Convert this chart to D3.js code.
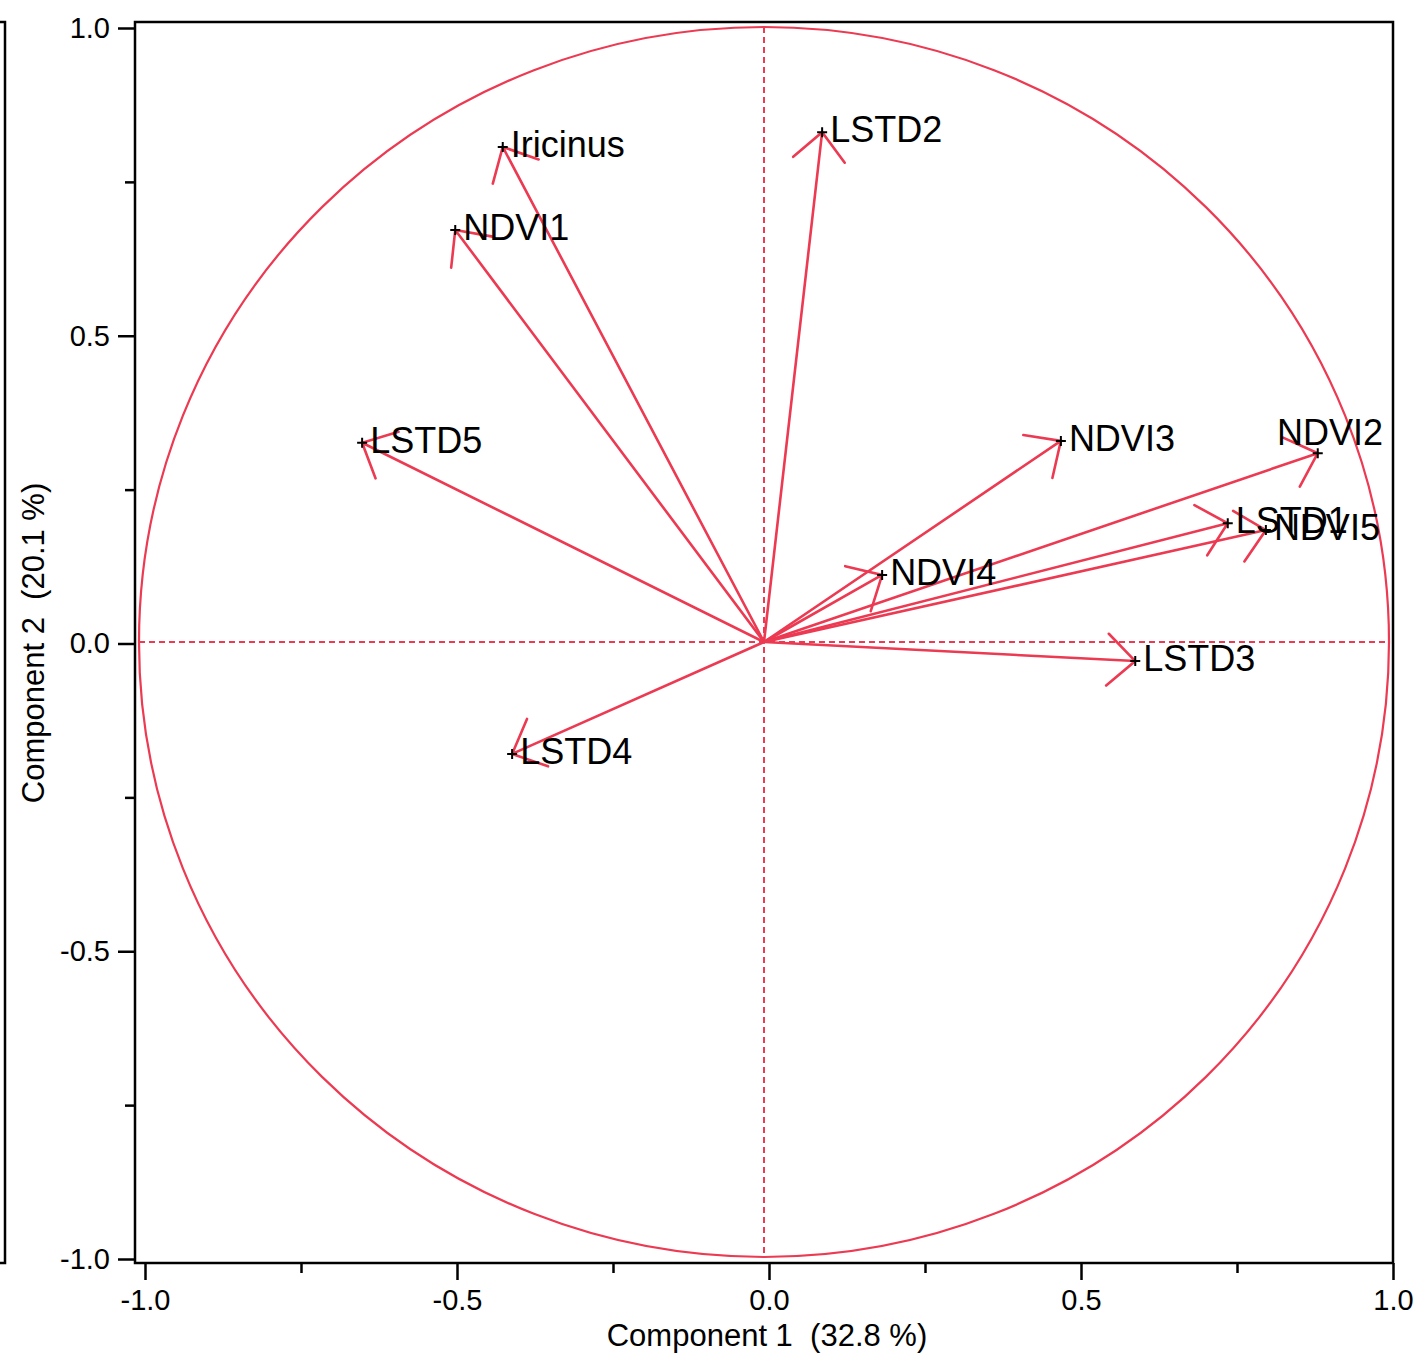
<!DOCTYPE html>
<html>
<head>
<meta charset="utf-8">
<script src="https://cdn.jsdelivr.net/npm/d3@7"></script>
<style>
  body { margin: 0; background: #fff; }
  text { font-family: "Liberation Sans", Arial, Helvetica, sans-serif; }
</style>
</head>
<body>
<svg id="chart" width="1419" height="1359"></svg>
<script>
// loadings
const variables = ["LSTD2", "Iricinus", "NDVI1", "LSTD5", "LSTD4", "NDVI4", "LSTD3", "NDVI3", "NDVI2", "LSTD1", "NDVI5"];
const comp1 = [0.093, -0.418, -0.494, -0.643, -0.403, 0.189, 0.594, 0.475, 0.886, 0.742, 0.803];
const comp2 = [0.829, 0.805, 0.670, 0.324, -0.182, 0.109, -0.031, 0.327, 0.307, 0.193, 0.182];

const majorTicks = [-1, -0.5, 0, 0.5, 1];
const minorTicks = [-0.75, -0.25, 0.25, 0.75];
const tickLabels = ["-1.0", "-0.5", "0.0", "0.5", "1.0"];
const xTitle = "Component 1  (32.8 %)";
const yTitle = "Component 2  (20.1 %)";

const RED = "#EC3A52";
const frame = { left: 135, top: 22, right: 1393, bottom: 1263 };

const svg = d3.select("#chart");

// axis scales
const xa = d3.scaleLinear().domain([-1, 1]).range([145, 1393]);
const ya = d3.scaleLinear().domain([-1, 1]).range([1259, 28]);
// plot scales (the unit circle sits a few px left of the axis)
const x = d3.scaleLinear().domain([-1, 1]).range([139, 1389]);
const y = d3.scaleLinear().domain([-1, 1]).range([1257, 27]);

// left neighbour panel edge
svg.append("rect")
    .attr("x", -20).attr("y", frame.top)
    .attr("width", 25).attr("height", frame.bottom - frame.top)
    .attr("fill", "none").attr("stroke", "#000").attr("stroke-width", 2.5);

// axes
const fmt = (d) => tickLabels[majorTicks.indexOf(d)];

const gx = svg.append("g").attr("transform", "translate(0," + frame.bottom + ")")
    .call(d3.axisBottom(xa).tickValues(majorTicks).tickFormat(fmt).tickSize(17).tickPadding(9));
const gxm = svg.append("g").attr("transform", "translate(0," + frame.bottom + ")")
    .call(d3.axisBottom(xa).tickValues(minorTicks).tickFormat("").tickSize(10));
const gy = svg.append("g").attr("transform", "translate(" + frame.left + ",0)")
    .call(d3.axisLeft(ya).tickValues(majorTicks).tickFormat(fmt).tickSize(17).tickPadding(8));
const gym = svg.append("g").attr("transform", "translate(" + frame.left + ",0)")
    .call(d3.axisLeft(ya).tickValues(minorTicks).tickFormat("").tickSize(10));

[gx, gxm, gy, gym].forEach(g => {
    g.select(".domain").remove();
    g.selectAll("line").attr("stroke", "#000").attr("stroke-width", 2.5);
    g.selectAll("text").attr("fill", "#000").style("font-size", "29px")
        .style("font-family", "'Liberation Sans', Arial, sans-serif");
});

// frame
svg.append("rect")
    .attr("x", frame.left).attr("y", frame.top)
    .attr("width", frame.right - frame.left).attr("height", frame.bottom - frame.top)
    .attr("fill", "none").attr("stroke", "#000").attr("stroke-width", 2.5);

// titles (keep the double space)
svg.append("text")
    .attr("x", 767).attr("y", 1346)
    .attr("text-anchor", "middle")
    .style("font-size", "31px")
    .style("white-space", "pre")
    .text(xTitle);

svg.append("text")
    .attr("transform", "translate(44,643) rotate(-90)")
    .attr("text-anchor", "middle")
    .style("font-size", "31px")
    .style("white-space", "pre")
    .text(yTitle);

// unit circle and dashed reference lines
svg.append("ellipse")
    .attr("cx", x(0)).attr("cy", y(0))
    .attr("rx", x(1) - x(0)).attr("ry", y(0) - y(1))
    .attr("fill", "none").attr("stroke", RED).attr("stroke-width", 2.2);

svg.append("line")
    .attr("x1", x(-1)).attr("x2", x(1)).attr("y1", y(0)).attr("y2", y(0))
    .attr("stroke", RED).attr("stroke-width", 2).attr("stroke-dasharray", "6,4");
svg.append("line")
    .attr("x1", x(0)).attr("x2", x(0)).attr("y1", y(1)).attr("y2", y(-1))
    .attr("stroke", RED).attr("stroke-width", 2).attr("stroke-dasharray", "6,4");

// arrows
const headLen = 38, headAng = 43 * Math.PI / 180;
const points = variables.map((v, i) => ({ name: v, px: x(comp1[i]), py: y(comp2[i]) }));

const arrows = svg.append("g")
    .attr("fill", "none").attr("stroke", RED).attr("stroke-width", 2.6).attr("stroke-linecap", "round");

points.forEach(p => {
    const a = Math.atan2(y(0) - p.py, x(0) - p.px);
    const h1 = [p.px + headLen * Math.cos(a + headAng), p.py + headLen * Math.sin(a + headAng)];
    const h2 = [p.px + headLen * Math.cos(a - headAng), p.py + headLen * Math.sin(a - headAng)];
    arrows.append("path")
        .attr("d", "M" + x(0) + "," + y(0) + "L" + p.px + "," + p.py +
            "M" + h1[0] + "," + h1[1] + "L" + p.px + "," + p.py + "L" + h2[0] + "," + h2[1]);
});

// markers and labels
const labels = svg.append("g");
points.forEach(p => {
    labels.append("path")
        .attr("d", "M" + (p.px - 5) + "," + p.py + "h10M" + p.px + "," + (p.py - 5) + "v10")
        .attr("stroke", "#000").attr("stroke-width", 2);
    const t = labels.append("text")
        .attr("x", p.px + 8).attr("y", p.py + 10)
        .style("font-size", "36px")
        .attr("fill", "#000")
        .text(p.name);
    const w = t.node().getComputedTextLength();
    if (p.px + 8 + w > frame.right - 8) {
        t.attr("x", frame.right - 10 - w).attr("y", p.py - 8);
    }
});
</script>
</body>
</html>
